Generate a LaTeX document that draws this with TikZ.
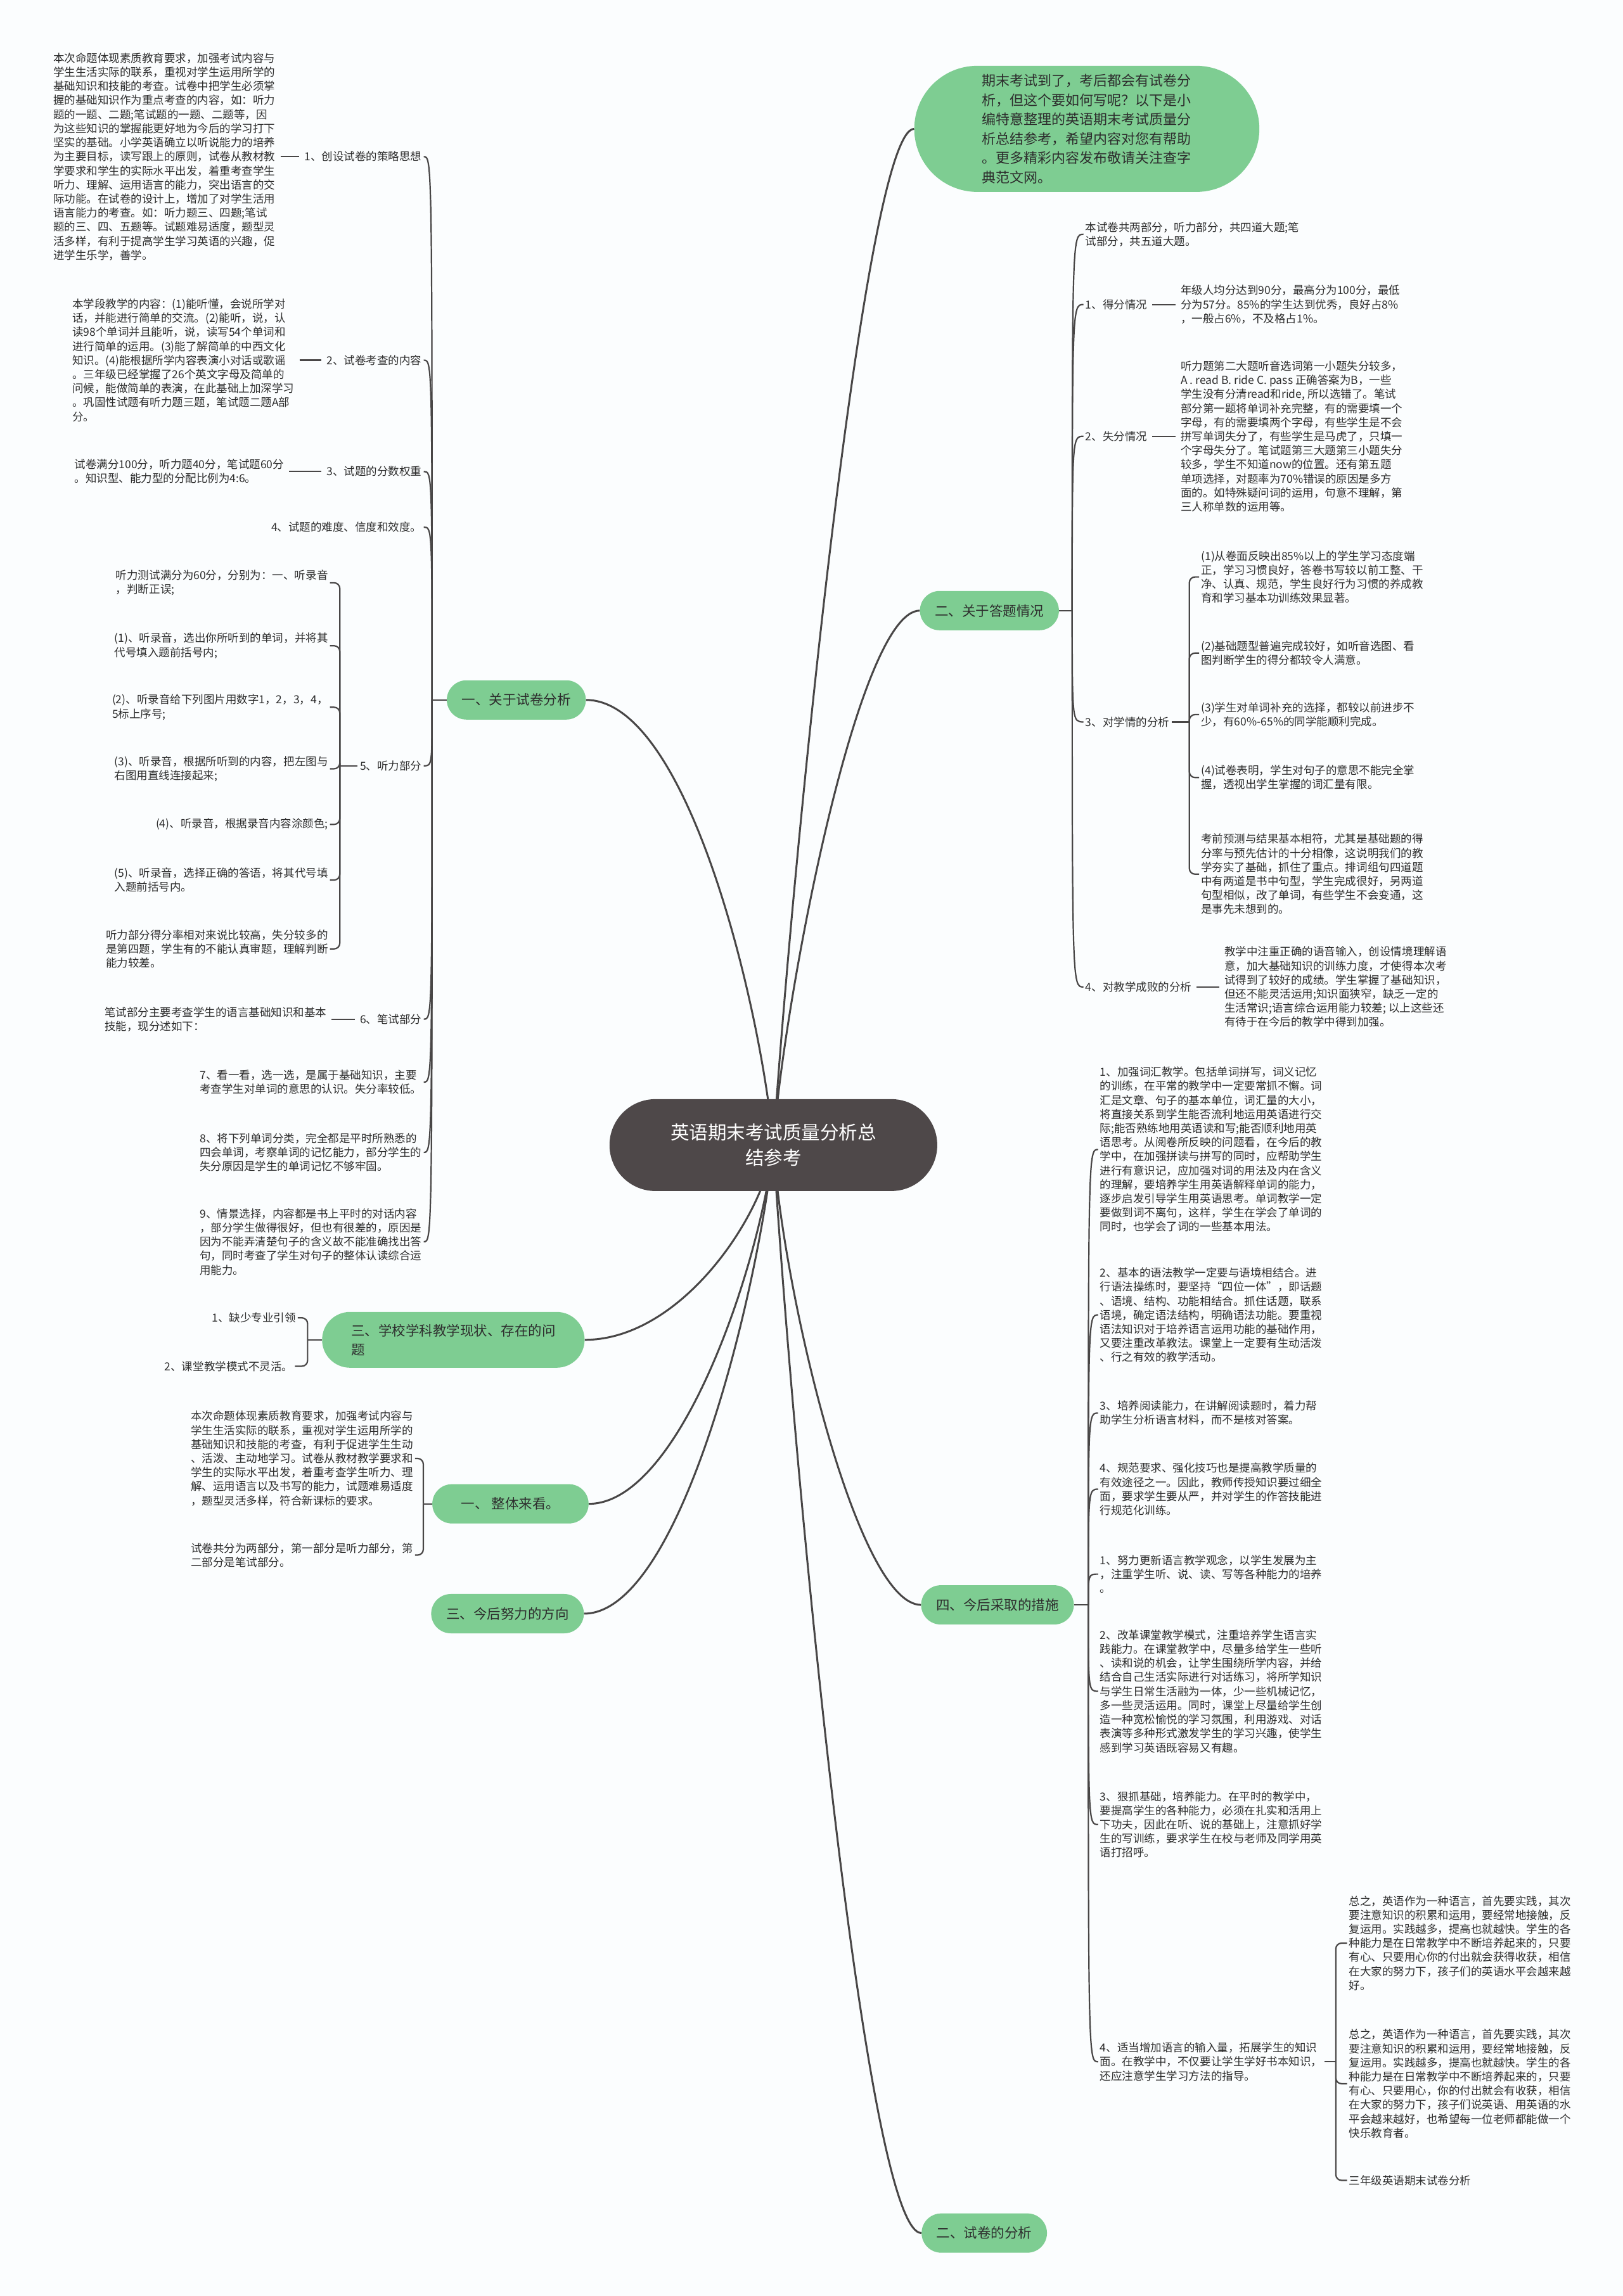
\documentclass[tikz,border=0pt]{standalone}
\usepackage{fontspec}
\setmainfont{Noto Sans CJK SC}
\usetikzlibrary{shapes.misc}
\definecolor{linegray}{RGB}{72,70,70}
\definecolor{leafgreen}{RGB}{126,205,146}
\definecolor{rootgray}{RGB}{78,72,73}
\definecolor{paper}{RGB}{251,253,254}
\definecolor{inkgray}{RGB}{45,45,45}
\pgfdeclarelayer{bg}
\pgfdeclarelayer{edges}
\pgfsetlayers{bg,edges,main}
\begin{document}
\begin{tikzpicture}[x=2.3105pt, y=-2.3105pt,
    leaf/.style={inner sep=0pt, align=left, text=inkgray, font=\fontsize{17.5pt}{22.2pt}\selectfont},
    branch/.style={rounded rectangle, fill=leafgreen, text=inkgray, inner xsep=22pt, inner ysep=0pt, minimum height=62pt, font=\fontsize{21.5pt}{30pt}\selectfont},
    root/.style={rounded rectangle, fill=rootgray, text=white, align=center, inner xsep=88pt, minimum height=145pt, font=\fontsize{29.5pt}{40pt}\selectfont},
    link/.style={draw=linegray, line width=2.2pt},
    trunk/.style={draw=linegray, line width=3pt},
    fork/.style={link, rounded corners=9pt, shorten >=3pt},
    stub/.style={link, shorten <=8pt, shorten >=8pt}]
\useasboundingbox (0,0) rectangle (1108,1568);
\begin{pgfonlayer}{bg}
  \fill[paper] (0,0) rectangle (1108,1568);
\end{pgfonlayer}

\node[root] (ctr) at (528,782) {英语期末考试质量分析总\\结参考};

% right side
\node[branch, align=left, minimum height=199pt, inner xsep=57pt, font=\fontsize{22pt}{30.5pt}\selectfont] (H) at (742,88) {期末考试到了，考后都会有试卷分\\
析，但这个要如何写呢？以下是小\\
编特意整理的英语期末考试质量分\\
析总结参考，希望内容对您有帮助\\
。更多精彩内容发布敬请关注查字\\
典范文网。};
\node[branch] (E) at (675.5,417) {二、关于答题情况};
\node[branch] (F) at (681,1096) {四、今后采取的措施};
\node[branch] (G) at (672,1525) {二、试卷的分析};

\node[leaf, anchor=west] (e0) at (741,160) {本试卷共两部分，听力部分，共四道大题;笔\\
试部分，共五道大题。};
\node[leaf, anchor=west] (e1) at (741,208) {1、得分情况};
\node[leaf, anchor=west] (e1p) at (806,208) {年级人均分达到90分，最高分为100分，最低\\
分为57分。85\%的学生达到优秀，良好占8\%\\
，一般占6\%，不及格占1\%。};
\node[leaf, anchor=west] (e2) at (741,298) {2、失分情况};
\node[leaf, anchor=west] (e2p) at (806,298) {听力题第二大题听音选词第一小题失分较多，\\
A . read B. ride C. pass 正确答案为B，一些\\
学生没有分清read和ride, 所以选错了。笔试\\
部分第一题将单词补充完整，有的需要填一个\\
字母，有的需要填两个字母，有些学生是不会\\
拼写单词失分了，有些学生是马虎了，只填一\\
个字母失分了。笔试题第三大题第三小题失分\\
较多，学生不知道now的位置。还有第五题\\
单项选择，对题率为70\%错误的原因是多方\\
面的。如特殊疑问词的运用，句意不理解，第\\
三人称单数的运用等。};
\node[leaf, anchor=west] (e3) at (741,493) {3、对学情的分析};
\node[leaf, anchor=west] (e31) at (820,394) {(1)从卷面反映出85\%以上的学生学习态度端\\
正，学习习惯良好，答卷书写较以前工整、干\\
净、认真、规范，学生良好行为习惯的养成教\\
育和学习基本功训练效果显著。};
\node[leaf, anchor=west] (e32) at (820,446) {(2)基础题型普遍完成较好，如听音选图、看\\
图判断学生的得分都较令人满意。};
\node[leaf, anchor=west] (e33) at (820,488) {(3)学生对单词补充的选择，都较以前进步不\\
少，有60\%-65\%的同学能顺利完成。};
\node[leaf, anchor=west] (e34) at (820,531) {(4)试卷表明，学生对句子的意思不能完全掌\\
握，透视出学生掌握的词汇量有限。};
\node[leaf, anchor=west] (e35) at (820,597) {考前预测与结果基本相符，尤其是基础题的得\\
分率与预先估计的十分相像，这说明我们的教\\
学夯实了基础，抓住了重点。排词组句四道题\\
中有两道是书中句型，学生完成很好，另两道\\
句型相似，改了单词，有些学生不会变通，这\\
是事先未想到的。};
\node[leaf, anchor=west] (e4) at (741,674) {4、对教学成败的分析};
\node[leaf, anchor=west] (e4p) at (836,674) {教学中注重正确的语音输入，创设情境理解语\\
意，加大基础知识的训练力度，才使得本次考\\
试得到了较好的成绩。学生掌握了基础知识，\\
但还不能灵活运用;知识面狭窄，缺乏一定的\\
生活常识;语言综合运用能力较差; 以上这些还\\
有待于在今后的教学中得到加强。};

\node[leaf, anchor=west] (f1) at (751,785) {1、加强词汇教学。包括单词拼写，词义记忆\\
的训练，在平常的教学中一定要常抓不懈。词\\
汇是文章、句子的基本单位，词汇量的大小，\\
将直接关系到学生能否流利地运用英语进行交\\
际;能否熟练地用英语读和写;能否顺利地用英\\
语思考。从阅卷所反映的问题看，在今后的教\\
学中，在加强拼读与拼写的同时，应帮助学生\\
进行有意识记，应加强对词的用法及内在含义\\
的理解，要培养学生用英语解释单词的能力，\\
逐步启发引导学生用英语思考。单词教学一定\\
要做到词不离句，这样，学生在学会了单词的\\
同时，也学会了词的一些基本用法。};
\node[leaf, anchor=west] (f2) at (751,898) {2、基本的语法教学一定要与语境相结合。进\\
行语法操练时，要坚持“四位一体”，即话题\\
、语境、结构、功能相结合。抓住话题，联系\\
语境，确定语法结构，明确语法功能。要重视\\
语法知识对于培养语言运用功能的基础作用，\\
又要注重改革教法。课堂上一定要有生动活泼\\
、行之有效的教学活动。};
\node[leaf, anchor=west] (f3) at (751,965) {3、培养阅读能力，在讲解阅读题时，着力帮\\
助学生分析语言材料，而不是核对答案。};
\node[leaf, anchor=west] (f4) at (751,1017) {4、规范要求、强化技巧也是提高教学质量的\\
有效途径之一。因此，教师传授知识要过细全\\
面，要求学生要从严，并对学生的作答技能进\\
行规范化训练。};
\node[leaf, anchor=west] (f5) at (751,1075) {1、努力更新语言教学观念，以学生发展为主\\
，注重学生听、说、读、写等各种能力的培养\\
。};
\node[leaf, anchor=west] (f6) at (751,1155) {2、改革课堂教学模式，注重培养学生语言实\\
践能力。在课堂教学中，尽量多给学生一些听\\
、读和说的机会，让学生围绕所学内容，并给\\
结合自己生活实际进行对话练习，将所学知识\\
与学生日常生活融为一体，少一些机械记忆，\\
多一些灵活运用。同时，课堂上尽量给学生创\\
造一种宽松愉悦的学习氛围，利用游戏、对话\\
表演等多种形式激发学生的学习兴趣，使学生\\
感到学习英语既容易又有趣。};
\node[leaf, anchor=west] (f7) at (751,1246) {3、狠抓基础，培养能力。在平时的教学中，\\
要提高学生的各种能力，必须在扎实和活用上\\
下功夫，因此在听、说的基础上，注意抓好学\\
生的写训练，要求学生在校与老师及同学用英\\
语打招呼。};
\node[leaf, anchor=west] (f8) at (751,1408) {4、适当增加语言的输入量，拓展学生的知识\\
面。在教学中，不仅要让学生学好书本知识，\\
还应注意学生学习方法的指导。};
\node[leaf, anchor=west] (f81) at (921,1327) {总之，英语作为一种语言，首先要实践，其次\\
要注意知识的积累和运用，要经常地接触，反\\
复运用。实践越多，提高也就越快。学生的各\\
种能力是在日常教学中不断培养起来的，只要\\
有心、只要用心你的付出就会获得收获，相信\\
在大家的努力下，孩子们的英语水平会越来越\\
好。};
\node[leaf, anchor=west] (f82) at (921,1423) {总之，英语作为一种语言，首先要实践，其次\\
要注意知识的积累和运用，要经常地接触，反\\
复运用。实践越多，提高也就越快。学生的各\\
种能力是在日常教学中不断培养起来的，只要\\
有心、只要用心，你的付出就会有收获，相信\\
在大家的努力下，孩子们说英语、用英语的水\\
平会越来越好，也希望每一位老师都能做一个\\
快乐教育者。};
\node[leaf, anchor=west] (f83) at (921,1489) {三年级英语期末试卷分析};

% left side
\node[branch] (A) at (352.5,478) {一、关于试卷分析};
\node[branch, align=left, minimum height=88pt, inner xsep=38pt] (B) at (309.5,915) {三、学校学科教学现状、存在的问\\题};
\node[branch, inner xsep=44pt] (C) at (348.5,1027) {一、 整体来看。};
\node[branch] (D) at (346.5,1102) {三、今后努力的方向};

\node[leaf, anchor=east] (a1) at (288,107) {1、创设试卷的策略思想};
\node[leaf, anchor=east] (a1p) at (188,107) {本次命题体现素质教育要求，加强考试内容与\\
学生生活实际的联系，重视对学生运用所学的\\
基础知识和技能的考查。试卷中把学生必须掌\\
握的基础知识作为重点考查的内容，如：听力\\
题的一题、二题;笔试题的一题、二题等，因\\
为这些知识的掌握能更好地为今后的学习打下\\
坚实的基础。小学英语确立以听说能力的培养\\
为主要目标，读写跟上的原则，试卷从教材教\\
学要求和学生的实际水平出发，着重考查学生\\
听力、理解、运用语言的能力，突出语言的交\\
际功能。在试卷的设计上，增加了对学生活用\\
语言能力的考查。如：听力题三、四题;笔试\\
题的三、四、五题等。试题难易适度，题型灵\\
活多样，有利于提高学生学习英语的兴趣，促\\
进学生乐学，善学。};
\node[leaf, anchor=east] (a2) at (288,246) {2、试卷考查的内容};
\node[leaf, anchor=east] (a2p) at (201,246) {本学段教学的内容：(1)能听懂，会说所学对\\
话，并能进行简单的交流。(2)能听，说，认\\
读98个单词并且能听，说，读写54个单词和\\
进行简单的运用。(3)能了解简单的中西文化\\
知识。(4)能根据所学内容表演小对话或歌谣\\
。三年级已经掌握了26个英文字母及简单的\\
问候，能做简单的表演，在此基础上加深学习\\
。巩固性试题有听力题三题，笔试题二题A部\\
分。};
\node[leaf, anchor=east] (a3) at (288,322) {3、试题的分数权重};
\node[leaf, anchor=east] (a3p) at (194,322) {试卷满分100分，听力题40分，笔试题60分\\
。知识型、能力型的分配比例为4:6。};
\node[leaf, anchor=east] (a4) at (288,360) {4、试题的难度、信度和效度。};
\node[leaf, anchor=east] (a5) at (288,523) {5、听力部分};
\node[leaf, anchor=east] (a51) at (224,398) {听力测试满分为60分，分别为：一、听录音\\
，判断正误;};
\node[leaf, anchor=east] (a52) at (224,441) {(1)、听录音，选出你所听到的单词，并将其\\
代号填入题前括号内;};
\node[leaf, anchor=east] (a53) at (224,483) {(2)、听录音给下列图片用数字1，2，3，4，\\
5标上序号;};
\node[leaf, anchor=east] (a54) at (224,525) {(3)、听录音，根据所听到的内容，把左图与\\
右图用直线连接起来;};
\node[leaf, anchor=east] (a55) at (224,563) {(4)、听录音，根据录音内容涂颜色;};
\node[leaf, anchor=east] (a56) at (224,601) {(5)、听录音，选择正确的答语，将其代号填\\
入题前括号内。};
\node[leaf, anchor=east] (a57) at (224,648) {听力部分得分率相对来说比较高，失分较多的\\
是第四题，学生有的不能认真审题，理解判断\\
能力较差。};
\node[leaf, anchor=east] (a6) at (288,696) {6、笔试部分};
\node[leaf, anchor=east] (a6p) at (223,696) {笔试部分主要考查学生的语言基础知识和基本\\
技能，现分述如下：};
\node[leaf, anchor=east] (a7) at (288,739) {7、看一看，选一选，是属于基础知识，主要\\
考查学生对单词的意思的认识。失分率较低。};
\node[leaf, anchor=east] (a8) at (288,787) {8、将下列单词分类，完全都是平时所熟悉的\\
四会单词，考察单词的记忆能力，部分学生的\\
失分原因是学生的单词记忆不够牢固。};
\node[leaf, anchor=east] (a9) at (288,848) {9、情景选择，内容都是书上平时的对话内容\\
，部分学生做得很好，但也有很差的，原因是\\
因为不能弄清楚句子的含义故不能准确找出答\\
句，同时考查了学生对句子的整体认读综合运\\
用能力。};

\node[leaf, anchor=east] (b1) at (202,900) {1、缺少专业引领};
\node[leaf, anchor=east] (b2) at (200,933) {2、课堂教学模式不灵活。};

\node[leaf, anchor=east] (c1) at (282,996) {本次命题体现素质教育要求，加强考试内容与\\
学生生活实际的联系，重视对学生运用所学的\\
基础知识和技能的考查，有利于促进学生生动\\
、活泼、主动地学习。试卷从教材教学要求和\\
学生的实际水平出发，着重考查学生听力、理\\
解、运用语言以及书写的能力，试题难易适度\\
，题型灵活多样，符合新课标的要求。};
\node[leaf, anchor=east] (c2) at (282,1062) {试卷共分为两部分，第一部分是听力部分，第\\
二部分是笔试部分。};

\coordinate (jA) at (295,478);
\coordinate (j5) at (232,523);
\coordinate (jB) at (210,915);
\coordinate (jC) at (289,1027);
\coordinate (jE) at (732,417);
\coordinate (je3) at (812,493);
\coordinate (jF) at (743,1096);
\coordinate (jf8) at (912,1408);

\begin{pgfonlayer}{edges}
  \draw[trunk] (ctr.center) .. controls (540,600) and (590,88) .. (H.west);
  \draw[trunk] (ctr.center) .. controls (534,690) and (585,417) .. (E.west);
  \draw[trunk] (ctr.center) .. controls (534,880) and (585,1096) .. (F.west);
  \draw[trunk] (ctr.center) .. controls (540,980) and (590,1525) .. (G.west);
  \draw[trunk] (ctr.center) .. controls (520,690) and (470,478) .. (A.east);
  \draw[trunk] (ctr.center) .. controls (522,830) and (465,915) .. (B.east);
  \draw[trunk] (ctr.center) .. controls (520,860) and (465,1027) .. (C.east);
  \draw[trunk] (ctr.center) .. controls (518,880) and (465,1102) .. (D.east);

  \draw[link] (A.west) -- (jA);
  \foreach \k in {1,...,9} \draw[link, shorten >=3pt] (jA) .. controls (jA |- a\k.east) .. (a\k.east);
  \draw[stub] (a1p.east) -- (a1.west);
  \draw[stub] (a2p.east) -- (a2.west);
  \draw[stub] (a3p.east) -- (a3.west);
  \draw[stub] (a6p.east) -- (a6.west);
  \draw[link, shorten <=4pt] (a5.west) -- (j5);
  \foreach \k in {1,...,7} \draw[fork] (j5) |- (a5\k.east);

  \draw[link] (B.west) -- (jB);
  \foreach \k in {1,2} \draw[fork] (jB) |- (b\k.east);
  \draw[link] (C.west) -- (jC);
  \foreach \k in {1,2} \draw[fork] (jC) |- (c\k.east);

  \draw[link] (E.east) -- (jE);
  \foreach \k in {0,...,4} \draw[link, shorten >=3pt] (jE) .. controls (jE |- e\k.west) .. (e\k.west);
  \draw[stub] (e1.east) -- (e1p.west);
  \draw[stub] (e2.east) -- (e2p.west);
  \draw[stub] (e4.east) -- (e4p.west);
  \draw[link, shorten <=4pt] (e3.east) -- (je3);
  \foreach \k in {1,...,5} \draw[fork] (je3) |- (e3\k.west);

  \draw[link] (F.east) -- (jF);
  \foreach \k in {1,...,8} \draw[link, shorten >=3pt] (jF) .. controls (jF |- f\k.west) .. (f\k.west);
  \draw[link, shorten <=4pt] (f8.east) -- (jf8);
  \foreach \k in {1,2,3} \draw[fork] (jf8) |- (f8\k.west);
\end{pgfonlayer}
\end{tikzpicture}
\end{document}
